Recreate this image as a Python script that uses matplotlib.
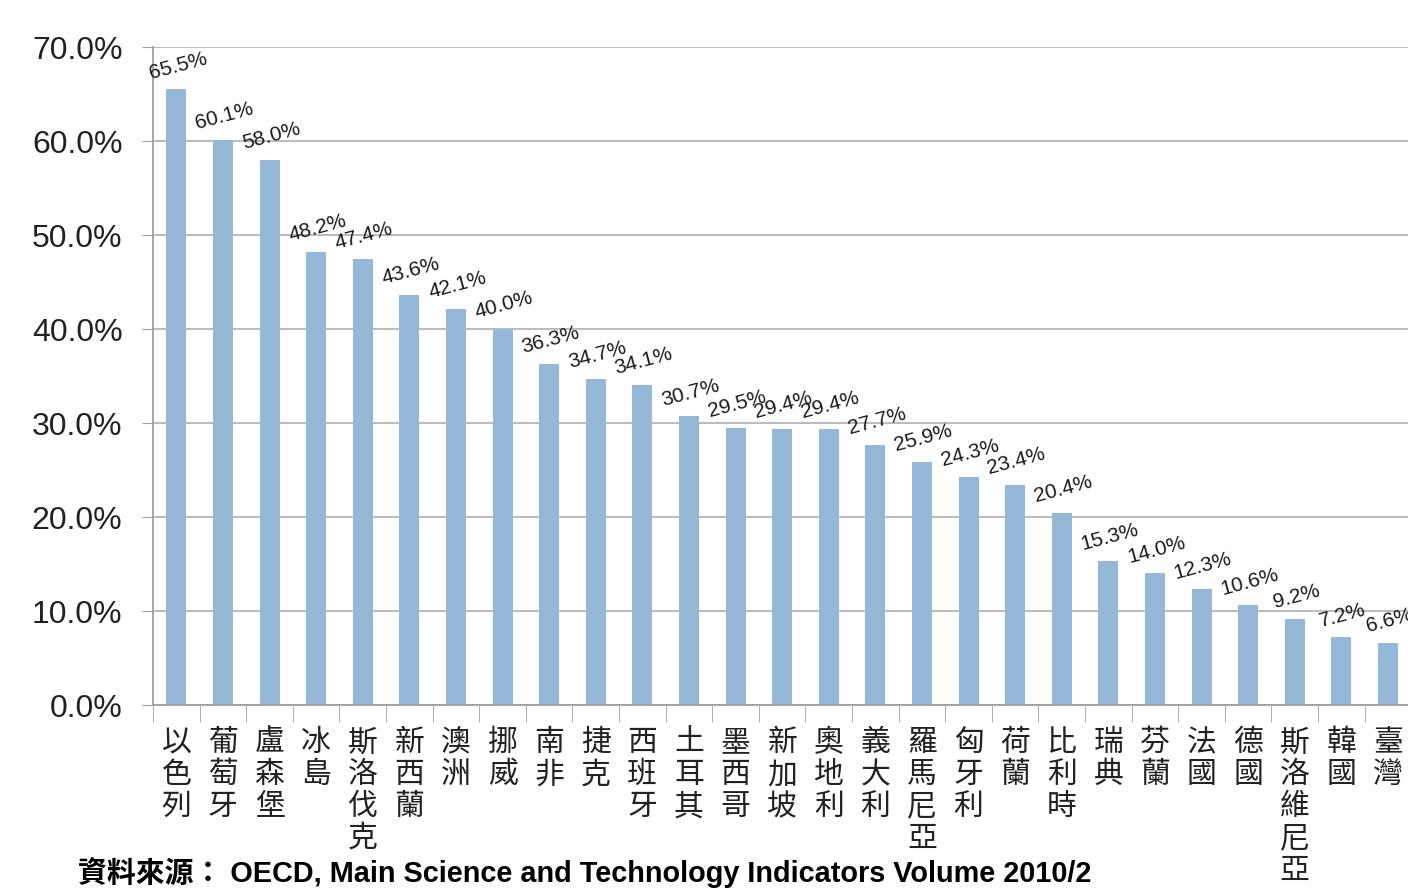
import matplotlib.pyplot as plt
from matplotlib.ticker import FuncFormatter, FixedLocator

plt.rcParams["font.family"] = ["Liberation Sans", "Noto Sans CJK TC", "DejaVu Sans"]

countries = ["以色列", "葡萄牙", "盧森堡", "冰島", "斯洛伐克", "新西蘭", "澳洲", "挪威",
             "南非", "捷克", "西班牙", "土耳其", "墨西哥", "新加坡", "奧地利", "義大利",
             "羅馬尼亞", "匈牙利", "荷蘭", "比利時", "瑞典", "芬蘭", "法國", "德國",
             "斯洛維尼亞", "韓國", "臺灣"]
shares = [65.5, 60.1, 58.0, 48.2, 47.4, 43.6, 42.1, 40.0, 36.3, 34.7, 34.1, 30.7, 29.5,
          29.4, 29.4, 27.7, 25.9, 24.3, 23.4, 20.4, 15.3, 14.0, 12.3, 10.6, 9.2, 7.2, 6.6]
source = "資料來源： OECD, Main Science and Technology Indicators Volume 2010/2"

fig = plt.figure(figsize=(14.08, 8.93), dpi=100)
ax = fig.add_axes([0.1087, 0.2105, 0.8913, 0.7368])

x = list(range(len(countries)))
ax.bar(x, shares, width=0.43, color="#95b7d8", zorder=2)

for xi, v in zip(x, shares):
    ax.annotate(f"{v:.1f}%", (xi, v), xytext=(1, 5), textcoords="offset points",
                ha="center", va="bottom", rotation=15, fontsize=15, color="#1a1a1a")

ax.set_xlim(-0.5, 26.43)
ax.set_ylim(0, 70)
ax.set_yticks(range(0, 71, 10))
ax.yaxis.set_major_formatter(FuncFormatter(lambda v, p: f"{v:.1f}%"))
ax.tick_params(axis="y", labelsize=23, length=8, color="#a0a0a0", pad=14, labelcolor="#222222")
ax.grid(axis="y", color="#b5b5b5", linewidth=1.3, zorder=0)

ax.set_xticks(x)
ax.set_xticklabels(["\n".join(c) for c in countries], fontsize=21.5, linespacing=1.04,
                   family=["Noto Sans CJK TC"], color="#222222", va="top")
ax.tick_params(axis="x", length=0, pad=16)
ax.xaxis.set_minor_locator(FixedLocator([i - 0.5 for i in x]))
ax.tick_params(axis="x", which="minor", length=12, color="#a0a0a0")

for side in ["top", "right"]:
    ax.spines[side].set_visible(False)
for side in ["left", "bottom"]:
    ax.spines[side].set_color("#a0a0a0")
    ax.spines[side].set_linewidth(1.3)

fig.text(0.0554, 0.0224, source, fontsize=20.8, fontweight="bold", va="center", ha="left",
         family=["Liberation Sans", "Noto Sans CJK TC"])

fig.savefig("out.png", dpi=100)
